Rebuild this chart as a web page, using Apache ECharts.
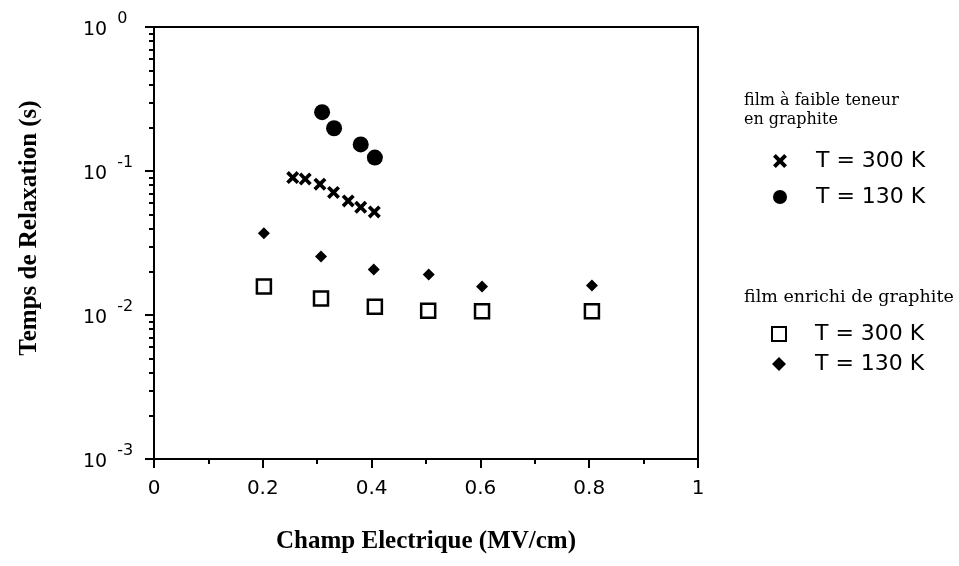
<!DOCTYPE html>
<html>
<head>
<meta charset="utf-8">
<script src="https://cdn.jsdelivr.net/npm/echarts@6/dist/echarts.min.js"></script>
<style>html,body{margin:0;padding:0;background:#fff}#main{width:959px;height:566px}</style>
</head>
<body>
<div id="main"></div>
<script>
// valeurs
var faible300X = [0.255, 0.278, 0.305, 0.33, 0.357, 0.38, 0.405];
var faible300Y = [0.090, 0.088, 0.081, 0.071, 0.062, 0.056, 0.052];
var faible130X = [0.309, 0.331, 0.38, 0.406];
var faible130Y = [0.256, 0.198, 0.153, 0.124];
var enrichi300X = [0.202, 0.307, 0.406, 0.504, 0.603, 0.805];
var enrichi300Y = [0.0158, 0.0130, 0.0114, 0.0107, 0.0106, 0.0106];
var enrichi130X = [0.202, 0.307, 0.404, 0.505, 0.603, 0.805];
var enrichi130Y = [0.0369, 0.0255, 0.0207, 0.0191, 0.0158, 0.0160];

var seriesNames = ['faible300', 'faible130', 'enrichi300', 'enrichi130'];
var legendLabels = { faible300: 'T = 300 K', faible130: 'T = 130 K', enrichi300: 'T = 300 K', enrichi130: 'T = 130 K' };

// graduations secondaires de l'axe log (2..9 x 10^n)
var yMinorTicks = [];
for (var d = -3; d < 0; d++) {
    for (var k = 2; k <= 9; k++) yMinorTicks.push(k * Math.pow(10, d));
}

function pairs(xs, ys) {
    return xs.map(function (x, i) { return [x, ys[i]]; });
}

var crossPath = 'path://M0,2 L2,0 L5,3 L8,0 L10,2 L7,5 L10,8 L8,10 L5,7 L2,10 L0,8 L3,5 Z';
var sans = 'DejaVu Sans';
var serif = 'Liberation Serif';
var black = { color: '#000', opacity: 1 };
var legendText = { fontFamily: sans, fontSize: 22, color: '#000', padding: [0, 0, 0, 24] };

var myChart = echarts.init(document.getElementById('main'));

var option = {
    animation: false,
    backgroundColor: '#fff',
    grid: {
        left: 154, right: 261, top: 27, bottom: 107,
        show: true, borderColor: '#000', borderWidth: 2
    },
    xAxis: {
        type: 'value',
        min: 0, max: 1, interval: 0.2,
        name: 'Champ Electrique (MV/cm)',
        nameLocation: 'middle',
        nameGap: 70,
        nameTextStyle: { fontFamily: serif, fontSize: 25, fontWeight: 'bold', color: '#000' },
        axisLine: { lineStyle: { color: '#000', width: 2 } },
        axisTick: { length: 9, lineStyle: { color: '#000', width: 2 } },
        minorTick: { show: true, splitNumber: 2, length: 5, lineStyle: { color: '#000', width: 2 } },
        splitLine: { show: false },
        axisLabel: { margin: 20, fontFamily: sans, fontSize: 20, color: '#000' }
    },
    yAxis: [{
        type: 'log',
        logBase: 10,
        min: 0.001, max: 1,
        axisLine: { lineStyle: { color: '#000', width: 2 } },
        axisTick: { length: 9, lineStyle: { color: '#000', width: 2 } },
        splitLine: { show: false },
        axisLabel: {
            align: 'left',
            margin: 71,
            formatter: function (v) {
                var e = Math.round(Math.log10(v));
                return '{b|10}{s|' + e + '}';
            },
            rich: {
                b: { fontFamily: sans, fontSize: 19, color: '#000', padding: [6, 10, 0, 0] },
                s: { fontFamily: sans, fontSize: 16, color: '#000', padding: [0, 0, 16, 0] }
            }
        }
    }, {
        type: 'log',
        logBase: 10,
        min: 0.001, max: 1,
        position: 'left',
        axisLine: { show: false },
        axisTick: { show: true, customValues: yMinorTicks, length: 5, lineStyle: { color: '#000', width: 2 } },
        axisLabel: { show: false },
        splitLine: { show: false }
    }],
    legend: [{
        orient: 'vertical',
        left: 768, top: 145,
        itemWidth: 14, itemHeight: 14,
        itemGap: 14,
        textStyle: legendText,
        formatter: function (n) { return legendLabels[n]; },
        data: [
            { name: 'faible300', icon: crossPath },
            { name: 'faible130', icon: 'circle' }
        ]
    }, {
        orient: 'vertical',
        left: 766, top: 318,
        itemWidth: 14, itemHeight: 14,
        itemGap: 8,
        textStyle: legendText,
        formatter: function (n) { return legendLabels[n]; },
        data: [
            { name: 'enrichi300', icon: 'rect' },
            { name: 'enrichi130', icon: 'diamond' }
        ]
    }],
    graphic: [
        {
            type: 'text', x: 30, y: 228, rotation: Math.PI / 2,
            style: {
                text: 'Temps de Relaxation (s)', font: 'bold 25px "Liberation Serif"', fill: '#000',
                align: 'center', verticalAlign: 'middle'
            }
        },
        { type: 'text', left: 744, top: 93, style: { text: 'film à faible teneur', font: '16px "DejaVu Serif"', fill: '#000' } },
        { type: 'text', left: 744, top: 112, style: { text: 'en graphite', font: '16px "DejaVu Serif"', fill: '#000' } },
        { type: 'text', left: 744, top: 288, style: { text: 'film enrichi de graphite', font: '17.5px "DejaVu Serif"', fill: '#000' } }
    ],
    series: [{
        name: seriesNames[0],
        type: 'scatter',
        symbol: crossPath,
        symbolSize: 13,
        itemStyle: black,
        data: pairs(faible300X, faible300Y)
    }, {
        name: seriesNames[1],
        type: 'scatter',
        symbol: 'circle',
        symbolSize: 16,
        itemStyle: black,
        data: pairs(faible130X, faible130Y)
    }, {
        name: seriesNames[2],
        type: 'scatter',
        symbol: 'rect',
        symbolSize: 14,
        itemStyle: { color: '#fff', borderColor: '#000', borderWidth: 2.5, opacity: 1 },
        data: pairs(enrichi300X, enrichi300Y)
    }, {
        name: seriesNames[3],
        type: 'scatter',
        symbol: 'diamond',
        symbolSize: 12,
        itemStyle: black,
        data: pairs(enrichi130X, enrichi130Y)
    }]
};

myChart.setOption(option);
</script>
</body>
</html>
